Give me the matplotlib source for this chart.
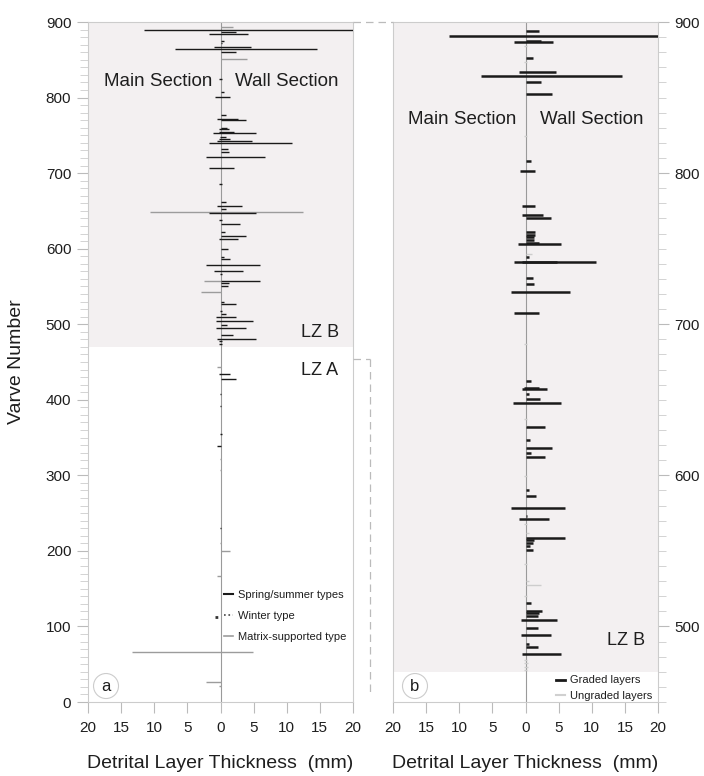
import matplotlib.pyplot as plt
from matplotlib.lines import Line2D
from matplotlib.ticker import MultipleLocator

plt.rcParams['font.family'] = ['Liberation Sans', 'DejaVu Sans']

# ---- panel a: all detrital layers (varve, main section thickness, wall section thickness) in mm
spring_varve = [889.4, 886.5, 884.5, 875.2, 872, 866.5, 864.2, 859.8, 824, 807.8, 800.2,
                776.9, 771.6, 770, 760, 758, 755, 753, 748, 745, 742, 739.4, 732, 728,
                720.8, 706.3, 685.6, 662.2, 656.9, 653, 647, 638, 632.2, 622.4, 617.2,
                612.3, 599.1, 589.4, 585.9, 578, 570.8, 566, 557.6, 554, 551, 529, 526.7,
                518, 514, 510, 504.2, 499, 494.5, 485.7, 480.4, 478, 474, 433.7, 427,
                407.6, 392.2, 354.3, 339.2, 229.9]
spring_main = [11.5, 0, 1.7, 0, 0, 1.0, 6.8, 0, 0.2, 0, 0.8,
               0, 0.5, 0, 0, 0.3, 0.3, 1.1, 0.1, 0.2, 0.5, 1.7, 0, 0,
               2.2, 1.7, 0.2, 0, 0.5, 0, 1.8, 0.2, 0, 0, 0,
               0.3, 0, 0, 0, 2.2, 1.0, 0.1, 0, 0, 0, 0, 0,
               0.1, 0, 0.65, 0.65, 0, 0.65, 0, 0.5, 0.2, 0.2, 0.3, 0,
               0.1, 0.1, 0.1, 0.5, 0.1]
spring_wall = [20, 2.3, 4.1, 0.6, 0.3, 4.6, 14.6, 2.4, 0.2, 0.6, 1.4,
               0.8, 2.6, 3.9, 1.0, 1.3, 2.0, 5.4, 0.8, 1.5, 4.8, 10.8, 1.2, 1.3,
               6.7, 2.0, 0.3, 0.8, 3.3, 0.8, 5.4, 0.3, 2.9, 0.7, 3.9,
               2.7, 1.2, 0.6, 1.5, 5.9, 3.4, 0.3, 6.0, 1.3, 1.2, 0.6, 2.3,
               0.3, 0.9, 2.4, 4.9, 1.0, 3.9, 1.9, 5.4, 0.3, 0.2, 1.5, 2.4,
               0.1, 0.1, 0.2, 0.1, 0.1]

winter_varve = [112.9]
winter_main = [0.8]
winter_wall = [0.3]

matrix_varve = [893.8, 851, 648, 557.6, 543, 443, 322, 307, 210, 199.8, 166.8, 66.6, 26, 21]
matrix_main = [0, 0, 10.7, 2.5, 3.0, 0.5, 0.1, 0.1, 0.1, 0, 0.6, 13.3, 2.2, 0.2]
matrix_wall = [1.9, 4.0, 12.4, 0, 0, 0, 0.1, 0.1, 0, 1.5, 0, 4.9, 0, 0]

# ---- panel b: LZ B, graded vs ungraded layers
graded_varve = [894.3, 890.5, 887.5, 887, 876, 866.7, 864.2, 860.5, 852.3, 808.2, 801.3,
                778.3, 772.4, 770.4, 761, 759, 757.5, 755.5, 753.8, 753.2, 744.5, 741.5,
                740.9, 730.9, 726.5, 721.4, 707.5, 662.5, 657.5, 657, 653.5, 650.3, 647.7,
                632, 623.3, 617.8, 615, 612.4, 590.3, 586.3, 578.1, 573, 571.3, 558.3,
                557, 555.5, 553.2, 550.5, 515.2, 510.2, 508.9, 507.2, 504.2, 499.1, 494.3,
                488.3, 486.6, 481.5]
graded_main = [0, 11.5, 0, 1.7, 0, 1.0, 6.7, 0, 0, 0, 0.9,
               0.5, 0.6, 0, 0, 0, 0, 0, 0, 1.1, 0, 0.6,
               1.7, 0, 0, 2.2, 1.7, 0, 0.3, 0.5, 0, 0, 1.9,
               0, 0, 0, 0, 0, 0, 0, 2.2, 0, 1.0, 0,
               0, 0, 0, 0, 0, 0, 0, 0, 0.65, 0, 0.65,
               0, 0, 0.5]
graded_wall = [2.0, 20, 2.3, 4.1, 1.1, 4.6, 14.6, 2.4, 4.0, 0.85, 1.4,
               1.5, 2.6, 3.9, 1.4, 1.4, 1.3, 1.3, 2.1, 5.4, 0.6, 4.8,
               10.7, 1.2, 1.3, 6.7, 2.0, 0.8, 2.0, 3.3, 0.5, 2.2, 5.4,
               2.9, 0.7, 4.0, 0.85, 2.9, 0.6, 1.6, 6.0, 0.3, 3.5, 6.0,
               1.3, 1.2, 0.7, 1.2, 0.9, 2.5, 2.1, 1.9, 4.7, 1.9, 3.9,
               0.6, 1.9, 5.4]

ungraded_varve = [884, 873.7, 824.5, 746.4, 687, 637, 632.5, 599.5, 567.5, 562, 541,
                  530, 527.4, 520, 478, 475.5, 473, 471]
ungraded_main = [0.3, 0.2, 0.2, 0, 0.2, 0.2, 0, 0.2, 0.2, 0, 0.2,
                 0, 0, 0.2, 0.2, 0.2, 0.2, 0.2]
ungraded_wall = [0.3, 0.3, 0.2, 1.0, 0.2, 0.3, 0.6, 0.3, 0.3, 0.6, 0.2,
                 0.5, 2.4, 0.3, 0.3, 0.4, 0.4, 0.3]

x_ticks = [-20, -15, -10, -5, 0, 5, 10, 15, 20]
x_ticklabels = ['20', '15', '10', '5', '0', '5', '10', '15', '20']

shade = '#f3f0f1'
spine_col = '#cccccc'
text_col = '#1e1e1e'

W, H = 704, 776
fig = plt.figure(figsize=(7.04, 7.76), dpi=100)
ax1 = fig.add_axes([88 / W, 1 - 702 / H, 265 / W, 680 / H])
ax2 = fig.add_axes([393 / W, 1 - 702 / H, 265 / W, 680 / H])


def style_axis(ax):
    ax.set_xlim(-20, 20)
    ax.set_xticks(x_ticks)
    ax.set_xticklabels(x_ticklabels)
    ax.yaxis.set_major_locator(MultipleLocator(100))
    ax.yaxis.set_minor_locator(MultipleLocator(10))
    ax.tick_params(which='major', length=8, color='#bbbbbb', labelsize=11,
                   labelcolor=text_col, pad=4)
    ax.tick_params(which='minor', length=6, color='#cccccc')
    ax.tick_params(axis='x', which='major', pad=6)
    for s in ax.spines.values():
        s.set_color(spine_col)
        s.set_linewidth(0.8)
    ax.axvline(0, color='#9a9a9a', lw=0.8, zorder=1)
    ax.set_xlabel('Detrital Layer Thickness  (mm)', fontsize=14, color=text_col, labelpad=14)


def neg(vals):
    return [-v for v in vals]


# panel a
ax1.axhspan(470, 900, color=shade, lw=0, zorder=0)
ax1.hlines(matrix_varve, neg(matrix_main), matrix_wall, colors='#9c9c9c', lw=1.0, zorder=2)
ax1.hlines(spring_varve, neg(spring_main), spring_wall, colors='#1a1a1a', lw=1.0, zorder=3)
ax1.hlines(winter_varve, neg(winter_main), winter_wall, colors='#333333', lw=2.0,
           linestyles=':', zorder=3)
ax1.set_ylim(0, 900)
style_axis(ax1)
ax1.set_ylabel('Varve Number', fontsize=14, color=text_col, labelpad=15)

leg1 = [Line2D([], [], color='#1a1a1a', lw=1.5),
        Line2D([], [], color='#444444', lw=1.2, ls=':'),
        Line2D([], [], color='#9c9c9c', lw=1.2)]
ax1.legend(leg1, ['Spring/summer types', 'Winter type', 'Matrix-supported type'],
           loc='upper left', bbox_to_anchor=(0.515, 0.165), frameon=False, fontsize=8,
           handlelength=0.8, handletextpad=0.4, labelspacing=1.0, borderpad=0,
           borderaxespad=0, labelcolor=text_col)

ax1.text(0.264, 0.912, 'Main Section', transform=ax1.transAxes, ha='center', va='center',
         fontsize=13.5, color=text_col)
ax1.text(0.751, 0.912, 'Wall Section', transform=ax1.transAxes, ha='center', va='center',
         fontsize=13.5, color=text_col)
ax1.text(0.875, 0.543, 'LZ B', transform=ax1.transAxes, ha='center', va='center',
         fontsize=13, color=text_col)
ax1.text(0.875, 0.488, 'LZ A', transform=ax1.transAxes, ha='center', va='center',
         fontsize=13, color=text_col)
ax1.text(0.068, 0.0235, 'a', transform=ax1.transAxes, ha='center', va='center', fontsize=12,
         color=text_col, bbox=dict(boxstyle='circle,pad=0.3', fc='white', ec='#cccccc', lw=0.8))

# panel b
ax2.axhspan(470, 900, color=shade, lw=0, zorder=0)
ax2.hlines(ungraded_varve, neg(ungraded_main), ungraded_wall, colors='#cdcdcd', lw=1.0, zorder=2)
ax2.hlines(graded_varve, neg(graded_main), graded_wall, colors='#1a1a1a', lw=1.8, zorder=3)
ax2.set_ylim(450, 900)
style_axis(ax2)
ax2.yaxis.tick_right()
ax2.yaxis.set_label_position('right')
ax2.tick_params(axis='y', which='both', left=False, right=True)

leg2 = [Line2D([], [], color='#1a1a1a', lw=2.0),
        Line2D([], [], color='#d0d0d0', lw=1.5)]
ax2.legend(leg2, ['Graded layers', 'Ungraded layers'],
           loc='upper left', bbox_to_anchor=(0.615, 0.039), frameon=False, fontsize=8,
           handlelength=0.8, handletextpad=0.5, labelspacing=0.5, borderpad=0,
           borderaxespad=0, labelcolor=text_col)

ax2.text(0.26, 0.856, 'Main Section', transform=ax2.transAxes, ha='center', va='center',
         fontsize=13.5, color=text_col)
ax2.text(0.751, 0.856, 'Wall Section', transform=ax2.transAxes, ha='center', va='center',
         fontsize=13.5, color=text_col)
ax2.text(0.879, 0.091, 'LZ B', transform=ax2.transAxes, ha='center', va='center',
         fontsize=13, color=text_col)
ax2.text(0.083, 0.0235, 'b', transform=ax2.transAxes, ha='center', va='center', fontsize=12,
         color=text_col, bbox=dict(boxstyle='circle,pad=0.3', fc='white', ec='#cccccc', lw=0.8))

# dashed connectors between the panels
dash = dict(transform=fig.transFigure, color='#bbbbbb', lw=0.9, ls=(0, (6, 4)))
fig.add_artist(Line2D([353 / W, 393 / W], [1 - 22 / H, 1 - 22 / H], **dash))
fig.add_artist(Line2D([353 / W, 370 / W], [1 - 359 / H, 1 - 359 / H], **dash))
fig.add_artist(Line2D([370 / W, 370 / W], [1 - 359 / H, 1 - 695 / H], **dash))

fig.savefig('out.png', dpi=100, facecolor='white')
